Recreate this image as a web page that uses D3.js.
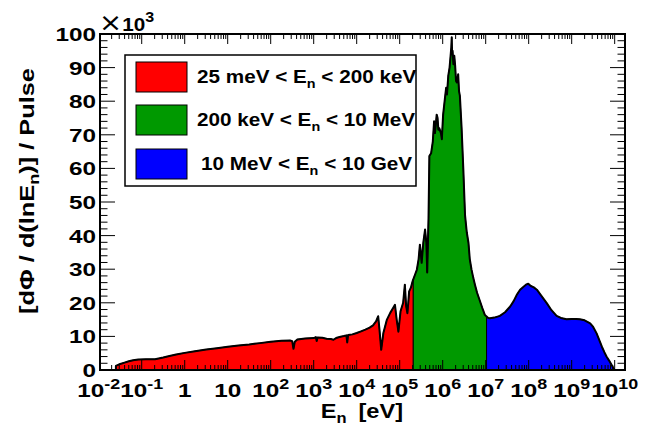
<!DOCTYPE html>
<html><head><meta charset="utf-8">
<script src="https://cdn.jsdelivr.net/npm/d3@7"></script>
<style>body{margin:0;background:#fff}svg{display:block}text{font-family:"Liberation Sans",Arial,Helvetica,sans-serif;font-weight:bold;fill:#000}</style>
</head><body><svg id="c" width="653" height="425"></svg>
<script>
// ---- data (log10 E [eV], flux x10^3) ----
const redLogE = [-1.60,-1.60,-1.50,-1.40,-1.30,-1.20,-1.08,-0.90,-0.69,-0.50,-0.38,-0.20,0.00,0.24,0.50,0.75,1.00,1.25,1.50,1.75,2.00,2.25,2.45,2.50,2.53,2.56,2.62,2.80,3.00,3.05,3.07,3.09,3.20,3.30,3.40,3.46,3.52,3.60,3.70,3.76,3.78,3.80,3.90,4.00,4.10,4.20,4.30,4.38,4.45,4.50,4.53,4.57,4.62,4.70,4.78,4.85,4.89,4.93,4.97,5.02,5.08,5.12,5.15,5.18,5.22,5.26,5.30,5.316];
const redFlux = [0,1.2,1.8,2.2,2.6,2.9,3.1,3.2,3.2,3.7,4.1,4.6,5.1,5.6,6.1,6.5,6.9,7.3,7.6,8.0,8.4,8.7,8.8,8.6,6.3,8.4,9.1,9.4,9.5,9.8,8.6,9.7,9.6,9.3,9.2,9.0,9.5,9.8,10.1,10.3,8.2,10.4,10.6,11.0,11.5,12.0,12.6,13.3,14.5,16.0,12.0,6.0,11.0,14.9,17.0,18.5,19.4,15.0,11.4,17.5,20.0,25.4,19.0,16.9,23.4,24.5,26.4,27.0];
const greenLogE = [5.316,5.36,5.40,5.44,5.47,5.49,5.51,5.55,5.59,5.62,5.64,5.67,5.69,5.73,5.77,5.80,5.82,5.84,5.86,5.88,5.90,5.92,5.96,5.98,6.01,6.05,6.08,6.10,6.13,6.16,6.18,6.20,6.21,6.22,6.23,6.25,6.27,6.29,6.31,6.33,6.36,6.38,6.40,6.44,6.48,6.52,6.56,6.60,6.63,6.67,6.71,6.75,6.80,6.87,6.92,6.98,7.02];
const greenFlux = [27.0,28.5,29.9,33.0,37.3,35.0,31.9,38.0,41.8,38.0,29.0,45.0,63.7,64.5,68.0,74.0,70.5,73.0,76.0,75.1,71.5,72.0,70.5,68.7,76.0,80.6,84.0,82.0,87.6,90.0,93.0,96.0,99.0,94.0,95.0,91.0,93.5,90.5,86.0,85.6,88.0,83.0,81.6,72.0,59.7,46.0,41.0,37.8,33.0,29.9,27.5,25.4,23.0,20.4,18.5,16.4,15.9];
const blueLogE = [7.02,7.06,7.10,7.20,7.33,7.45,7.57,7.65,7.72,7.80,7.88,7.95,7.99,8.05,8.12,8.19,8.30,8.42,8.53,8.65,8.75,8.88,9.00,9.10,9.19,9.30,9.43,9.50,9.58,9.64,9.70,9.76,9.81,9.87,9.93,9.97,10.00];
const blueFlux = [15.9,15.5,15.4,15.6,16.1,17.2,18.9,20.5,22.3,23.9,24.8,25.5,25.7,25.0,24.6,23.9,22.0,19.9,17.8,16.1,15.5,15.1,15.2,15.2,15.1,14.8,13.9,12.8,10.9,9.0,7.0,5.3,4.0,2.8,1.5,0.6,0];
const seriesColors = ["#ff0000","#009900","#0000ff"];
const legendLabels = [["25 meV < E","n"," < 200 keV"],["200 keV < E","n"," < 10 MeV"],["10 MeV < E","n"," < 10 GeV"]];
const xTickExps = [-2,-1,0,1,2,3,4,5,6,7,8,9,10];
const yTicks = [0,10,20,30,40,50,60,70,80,90,100];

// ---- layout ----
const svg = d3.select("#c");
const L=100, R=625, T=34, B=370;
const x = d3.scaleLog().domain([Math.pow(10,-1.97), Math.pow(10,10.24)]).range([L,R]);
const y = d3.scaleLinear().domain([0,100]).range([B,T]);

const series = [[redLogE,redFlux],[greenLogE,greenFlux],[blueLogE,blueFlux]];
const pts = s => s[0].map((e,i)=>[Math.pow(10,e), s[1][i]]);
const area = d3.area().x(d=>x(d[0])).y0(y(0)).y1(d=>y(d[1]));
const line = d3.line().x(d=>x(d[0])).y(d=>y(d[1]));

series.forEach((s,i)=>{
  svg.append("path").attr("d",area(pts(s))).attr("fill",seriesColors[i]).attr("stroke","#000").attr("stroke-width",1);
});
series.forEach((s,i)=>{
  svg.append("path").attr("d",line(pts(s))).attr("fill","none").attr("stroke","#000").attr("stroke-width",2).attr("stroke-linejoin","round");
});

// frame
svg.append("rect").attr("x",L).attr("y",T).attr("width",R-L).attr("height",B-T).attr("fill","none").attr("stroke","#000").attr("stroke-width",2);

// ticks
const tg = svg.append("g").attr("stroke","#000").attr("stroke-width",1);
const xMajor=[], xMinor=[];
for (let e=-2;e<=10;e++){ xMajor.push(Math.pow(10,e)); for(let m=2;m<=9;m++){const v=m*Math.pow(10,e); if(v<=x.domain()[1]) xMinor.push(v);} }
xMajor.forEach(v=>{ if(x(v)<=L+1) return; tg.append("line").attr("x1",x(v)).attr("x2",x(v)).attr("y1",B).attr("y2",B-10);
  tg.append("line").attr("x1",x(v)).attr("x2",x(v)).attr("y1",T).attr("y2",T+10); });
xMinor.forEach(v=>{ if(x(v)<=L+1) return; tg.append("line").attr("x1",x(v)).attr("x2",x(v)).attr("y1",B).attr("y2",B-5);
  tg.append("line").attr("x1",x(v)).attr("x2",x(v)).attr("y1",T).attr("y2",T+5); });
for(let v=0; v<=100; v+=2){
  const len = v%10===0?15:7.5;
  tg.append("line").attr("x1",L).attr("x2",L+len).attr("y1",y(v)).attr("y2",y(v));
  tg.append("line").attr("x1",R).attr("x2",R-len).attr("y1",y(v)).attr("y2",y(v));
}

// text helper: stretched bold text
function stext(px,py,size,sx,anchor,parts,rot){
  const t = svg.append("text").attr("font-size",size).attr("text-anchor",anchor||"start")
    .attr("transform",`translate(${px},${py})${rot?` rotate(${rot})`:""} scale(${sx},1)`);
  parts.forEach(p=>{
    const s = t.append("tspan").text(p.t);
    if(p.dy) s.attr("dy",p.dy);
    if(p.fs) s.attr("font-size",p.fs);
    if(p.ff) s.style("font-family",p.ff).style("font-weight","normal");
  });
  return t;
}

// y labels
yTicks.forEach(v=>{ stext(96,y(v)+7,19,1.28,"end",[{t:String(v)}]); });
// x labels
xTickExps.forEach(e=>{
  const px = x(Math.pow(10,e));
  if(e===0) stext(px,397,19,1.28,"middle",[{t:"1"}]);
  else if(e===1) stext(px,397,19,1.28,"middle",[{t:"10"}]);
  else stext(px,397,19,1.28,"middle",[{t:"10"},{t:String(e),dy:-8,fs:14}]);
});
// x10^3
stext(99,31,18,1.15,"start",[{t:"\u00d7",fs:24,ff:"DejaVu Sans"},{t:"10",fs:18},{t:"3",dy:-9,fs:14}]);

// axis titles
stext(403,418,20,1.18,"end",[{t:"E"},{t:"n",dy:5,fs:14},{t:"\u2002[eV]",dy:-5}]);
stext(34,191,19.5,1.3,"middle",[{t:"[d\u03a6 / d(lnE"},{t:"n",dy:5,fs:14},{t:")] / Pulse",dy:-5}],-90);

// legend
svg.append("rect").attr("x",125).attr("y",55).attr("width",291).attr("height",131).attr("fill","#fff").attr("stroke","#000").attr("stroke-width",1.5);
const swY=[62,105,149];
legendLabels.forEach((lab,i)=>{
  svg.append("rect").attr("x",136).attr("y",swY[i]).attr("width",51).attr("height",30).attr("fill",seriesColors[i]).attr("stroke","#000").attr("stroke-width",1);
  stext(197+(i===2?4:0),swY[i]+21,18,1.15,"start",[{t:lab[0]},{t:lab[1],dy:5,fs:12.5},{t:lab[2],dy:-5}]);
});
</script></body></html>
